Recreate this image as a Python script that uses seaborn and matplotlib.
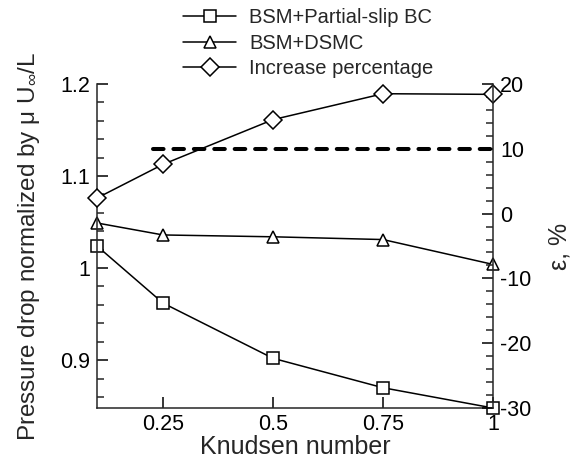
import matplotlib
matplotlib.use("Agg")
import matplotlib.pyplot as plt
import seaborn as sns
from matplotlib.ticker import MultipleLocator, FixedLocator

knudsen = [0.1, 0.25, 0.5, 0.75, 1.0]
partial_slip = [1.024, 0.962, 0.902, 0.870, 0.848]
dsmc = [1.049, 1.036, 1.034, 1.031, 1.004]
increase = [2.4, 7.6, 14.5, 18.5, 18.4]
ref_x = [0.227, 1.0]
ref_y = [10, 10]
labels = ["BSM+Partial-slip BC", "BSM+DSMC", "Increase percentage"]
x_ticks = [0.25, 0.5, 0.75, 1.0]
x_ticklabels = ["0.25", "0.5", "0.75", "1"]
left_ticks = [0.9, 1.0, 1.1, 1.2]
left_ticklabels = ["0.9", "1", "1.1", "1.2"]
right_ticks = [-30, -20, -10, 0, 10, 20]
right_ticklabels = ["-30", "-20", "-10", "0", "10", "20"]

sns.set_style("ticks")
plt.rcParams["font.family"] = ["Liberation Sans", "DejaVu Sans"]
plt.rcParams["mathtext.fontset"] = "custom"
plt.rcParams["mathtext.rm"] = "Liberation Sans"
plt.rcParams["mathtext.it"] = "Liberation Sans"
plt.rcParams["axes.linewidth"] = 1.1
plt.rcParams["axes.unicode_minus"] = False

fig = plt.figure(figsize=(5.76, 4.59), dpi=100)
ax = fig.add_axes([97/576, 1-408/459, 396/576, 324/459])
ax2 = ax.twinx()

mk = dict(markersize=9, markerfacecolor="white", markeredgecolor="black",
          markeredgewidth=1.1, color="black", linewidth=1.1, clip_on=False)

sns.lineplot(x=knudsen, y=partial_slip, marker="s", ax=ax, legend=False, **mk)
h1 = ax.lines[-1]
sns.lineplot(x=knudsen, y=dsmc, marker="^", ax=ax, legend=False, **mk)
h2 = ax.lines[-1]
sns.lineplot(x=knudsen, y=increase, marker="D", ax=ax2, legend=False, **mk)
h3 = ax2.lines[-1]
sns.lineplot(x=ref_x, y=ref_y, ax=ax2, legend=False, color="black",
             linewidth=2.9, dashes=False)
ref_line = ax2.lines[-1]
ref_line.set_dashes((2.62, 2.45))
ref_line.set_dash_capstyle("round")
ref_line.set_clip_on(False)

ax.set_xlim(0.1, 1.0)
ax.set_ylim(0.848, 1.2)
ax2.set_ylim(-30, 20)

ax.xaxis.set_major_locator(FixedLocator(x_ticks))
ax.set_xticklabels(x_ticklabels)
ax.yaxis.set_major_locator(FixedLocator(left_ticks))
ax.set_yticklabels(left_ticklabels)
ax.yaxis.set_minor_locator(MultipleLocator(0.02))
ax2.yaxis.set_major_locator(FixedLocator(right_ticks))
ax2.set_yticklabels(right_ticklabels)
ax2.yaxis.set_minor_locator(MultipleLocator(2))

for a in (ax, ax2):
    a.spines["top"].set_visible(False)
    a.tick_params(which="major", direction="in", length=8, width=1.1,
                  labelsize=15.5, pad=5, colors="black")
    a.tick_params(which="minor", direction="in", length=5, width=1.1)
ax.tick_params(axis="x", pad=4)
ax.spines["right"].set_visible(False)
ax2.spines["left"].set_visible(False)
ax2.spines["bottom"].set_visible(False)

ax.set_xlabel("Knudsen number", fontsize=18, labelpad=0)
ax.set_ylabel(r"Pressure drop normalized by μ U$_{\infty}$/L", fontsize=17.5, labelpad=13)
ax2.set_ylabel("ε, %", fontsize=18, labelpad=12)

fig.legend([h1, h2, h3], labels, loc="upper left",
           bbox_to_anchor=(183/576, 1 - 8/459), frameon=False,
           fontsize=14.5, handlelength=2.65, handletextpad=0.65,
           labelspacing=0.33, borderpad=0, borderaxespad=0)

fig.savefig("out.png", dpi=100)
